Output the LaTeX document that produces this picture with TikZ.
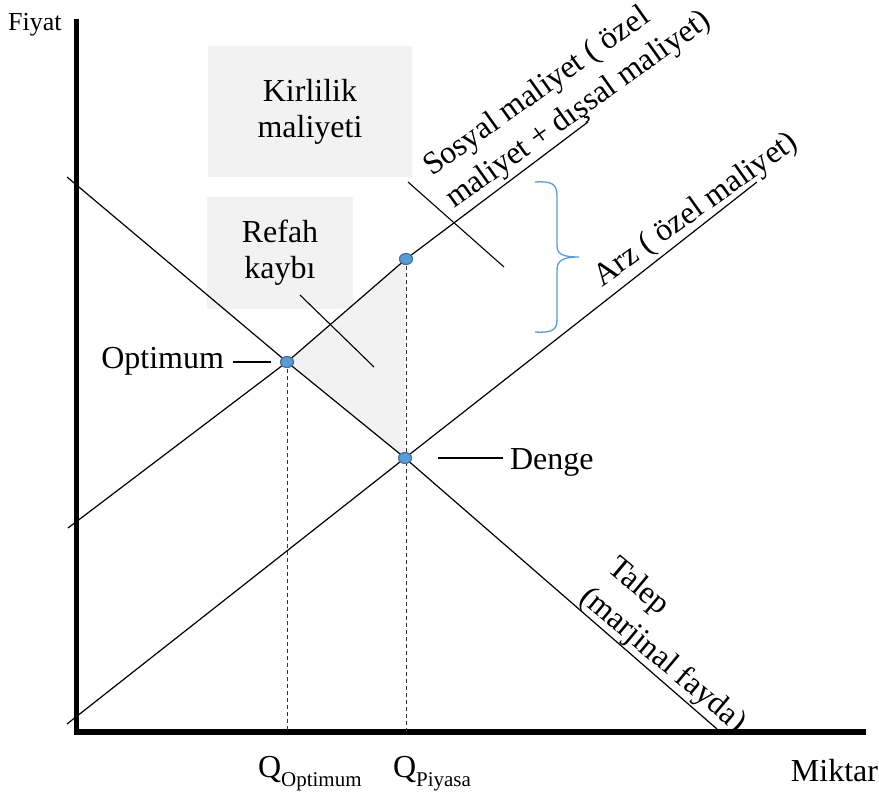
\documentclass[tikz,border=0pt]{standalone}
\usepackage{fontspec}
\setmainfont{Liberation Serif}
\usetikzlibrary{shapes.geometric}
\definecolor{boxgrey}{HTML}{F2F2F2}
\definecolor{dotblue}{HTML}{5B9BD5}
\definecolor{dotedge}{HTML}{41719C}
\begin{document}
\begin{tikzpicture}[x=1pt,y=-1pt,
  lbl/.style={font=\fontsize{32}{37}\selectfont, inner sep=0pt, outer sep=0pt},
  greybox/.style={fill=boxgrey, draw=none, align=center, font=\fontsize{32}{36}\selectfont, inner sep=0pt},
  curve/.style={line width=1.2pt, black},
  axis/.style={line width=5.5pt, black},
  guide/.style={line width=1pt, dash pattern=on 4pt off 3pt, black!80},
  pointer/.style={line width=1.1pt, black},
  dot/.style={ellipse, minimum width=13pt, minimum height=11pt, inner sep=0pt, fill=dotblue, draw=dotedge, line width=1.2pt}]
\useasboundingbox (0,0) rectangle (879,797);

% shaded welfare-loss triangle
\coordinate (o) at (287,362);
\coordinate (s) at (406,259);
\coordinate (e) at (405,458);
\fill[boxgrey] (o) -- (s) -- (e) -- cycle;

% grey text boxes
\node[greybox, minimum width=204pt, minimum height=131pt] (kb) at (310,111.5) {Kirlilik\\maliyeti};
\node[greybox, minimum width=146pt, minimum height=112pt] (rb) at (280,253) {Refah\\kaybı};

% axes
\coordinate (ytop) at (76.5,22);
\coordinate (orig) at (76.5,732);
\coordinate (xend) at (863,732);
\draw[axis, line cap=rect] (ytop) -- (orig) -- (xend);

% curves
\coordinate (d0) at (67,177);
\coordinate (d1) at (717,729);
\coordinate (a0) at (67,724);
\coordinate (a1) at (757,182);
\coordinate (s0) at (68,528);
\coordinate (s1) at (588,122);
\draw[curve] (d0) -- (o) -- (e) -- (d1);
\draw[curve] (a0) -- (e) -- (a1);
\draw[curve] (s0) -- (o) -- (s) -- (s1);

% dashed guides
\draw[guide] (o) -- (o |- orig);
\draw[guide] (s) -- (s |- orig);

% pointers
\coordinate (kp0) at (408,182);
\coordinate (kp1) at (504,267);
\draw[pointer] (kp0) -- (kp1);
\coordinate (rp0) at (300,295);
\coordinate (rp1) at (374,367);
\draw[pointer] (rp0) -- (rp1);
\coordinate (op0) at (233,362);
\coordinate (op1) at (271,362);
\draw[pointer] (op0) -- (op1);
\coordinate (ep0) at (438,458);
\coordinate (ep1) at (503,458);
\draw[pointer] (ep0) -- (ep1);

% brace
\draw[dotblue, line width=1.3pt] (535,182) .. controls (552,181) and (557,184) .. (557,196) -- (557,245) .. controls (557,254) and (562,257) .. (579,257) .. controls (562,257) and (557,261) .. (557,270) -- (557,320) .. controls (557,330) and (552,333) .. (535,332);

% dots
\node[dot] (optdot) at (o) {};
\node[dot] (socdot) at (s) {};
\node[dot] (eqdot) at (e) {};

% labels
\node[inner sep=0pt, anchor=base west, font=\fontsize{26}{30}\selectfont] (fiyat) at (8,31) {Fiyat};
\node[lbl, anchor=base east] (miktar) at (878,781) {Miktar};
\node[lbl, anchor=base east] (optlbl) at (224,368) {Optimum};
\node[lbl, anchor=base west] (denge) at (510,469) {Denge};
\node[lbl, anchor=base west] (qopt) at (258,777) {Q\raisebox{-9pt}{\fontsize{21}{24}\selectfont Optimum}};
\node[lbl, anchor=base west] (qpiy) at (393,777) {Q\raisebox{-9pt}{\fontsize{21}{24}\selectfont Piyasa}};
\node[lbl, anchor=base west, rotate=35.5] (sos1) at (432,177) {Sosyal maliyet ( özel};
\node[lbl, anchor=base west, rotate=35.5] (sos2) at (454,209) {maliyet + dışsal maliyet)};
\node[lbl, anchor=base west, rotate=35.5] (arz) at (602,287) {Arz ( özel maliyet)};
\node[lbl, anchor=base west, rotate=-40] (tal1) at (606,570) {Talep};
\node[lbl, anchor=base west, rotate=-40] (tal2) at (578,600) {(marjinal fayda)};
\end{tikzpicture}
\end{document}
